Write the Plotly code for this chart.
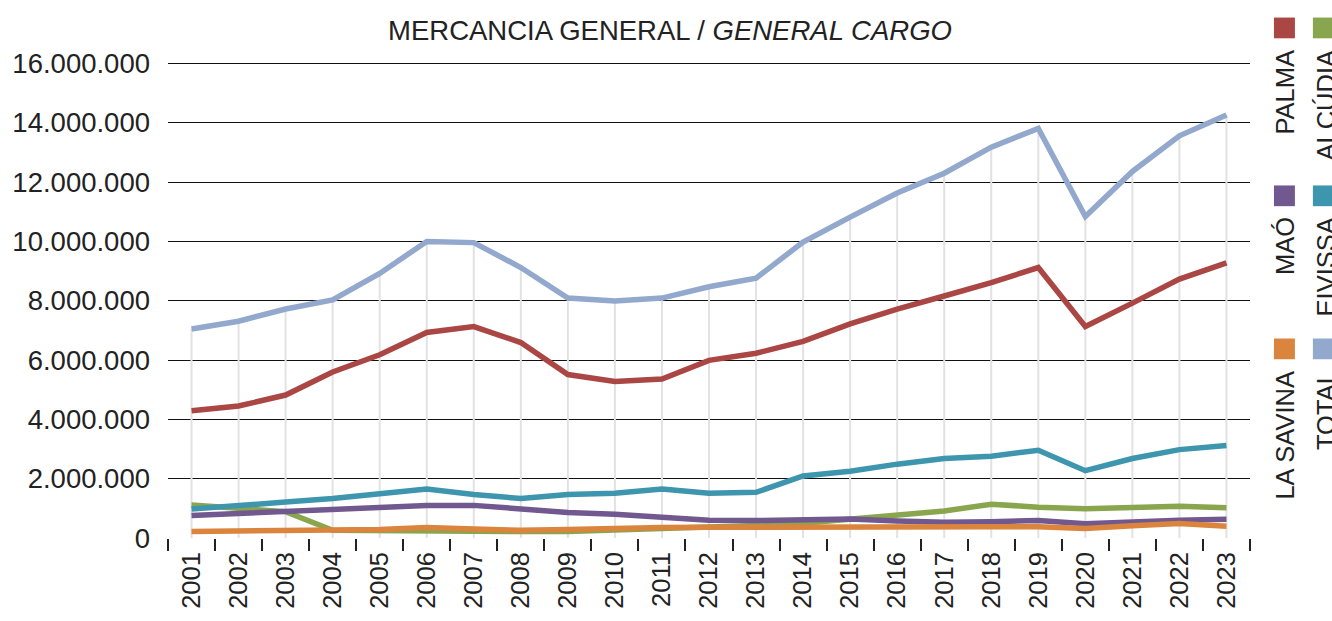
import plotly.graph_objects as go

years = [str(y) for y in range(2001, 2024)]

palma = [4.29, 4.45, 4.82, 5.60, 6.18, 6.93, 7.13, 6.59, 5.51, 5.28, 5.36, 5.99,
         6.23, 6.63, 7.22, 7.72, 8.16, 8.61, 9.12, 7.13, 7.92, 8.73, 9.28]
alcudia = [1.11, 1.01, 0.89, 0.26, 0.24, 0.26, 0.24, 0.22, 0.22, 0.26, 0.31, 0.35,
           0.42, 0.50, 0.65, 0.79, 0.91, 1.14, 1.04, 0.99, 1.05, 1.07, 1.02]
mao = [0.76, 0.82, 0.89, 0.95, 1.01, 1.10, 1.10, 0.98, 0.86, 0.80, 0.70, 0.60,
       0.59, 0.62, 0.64, 0.57, 0.53, 0.55, 0.59, 0.48, 0.55, 0.60, 0.63]
eivissa = [0.98, 1.08, 1.21, 1.33, 1.49, 1.65, 1.47, 1.33, 1.47, 1.51, 1.65, 1.51,
           1.54, 2.09, 2.25, 2.49, 2.68, 2.76, 2.96, 2.27, 2.68, 2.98, 3.12]
lasavina = [0.22, 0.25, 0.26, 0.27, 0.29, 0.35, 0.30, 0.26, 0.29, 0.33, 0.35, 0.36,
            0.37, 0.37, 0.37, 0.38, 0.40, 0.38, 0.38, 0.32, 0.41, 0.49, 0.40]
total = [7.05, 7.31, 7.72, 8.03, 8.92, 10.00, 9.96, 9.12, 8.09, 7.99, 8.09, 8.47,
         8.76, 9.98, 10.82, 11.63, 12.30, 13.18, 13.81, 10.84, 12.36, 13.56, 14.26]

series_names = ["PALMA", "ALCÚDIA", "MAÓ", "EIVISSA", "LA SAVINA", "TOTAL"]
series_values = [palma, alcudia, mao, eivissa, lasavina, total]
series_colors = ["#AA4643", "#89A54E", "#71588F", "#3D96AE", "#DB843D", "#92A8CD"]

M = 1_000_000
FONT = "Liberation Sans, Arial, sans-serif"

fig = go.Figure()

# drop lines from each total value to the axis
dx, dy = [], []
for yr, t in zip(years, total):
    dx += [yr, yr, yr]
    dy += [0, t * M, None]
fig.add_trace(go.Scatter(x=dx, y=dy, mode="lines", line=dict(color="#e2e2e2", width=2),
                         hoverinfo="skip", showlegend=False, connectgaps=False))

# draw order: total first, then ports
order = [5, 0, 1, 2, 3, 4]
for i in order:
    fig.add_trace(go.Scatter(x=years, y=[v * M for v in series_values[i]], mode="lines",
                             name=series_names[i],
                             line=dict(color=series_colors[i], width=5.5),
                             showlegend=False))

# plot area pixels
L, R, T, B = 166, 1250, 62, 544
W, H = 1332, 621
YMAX = 16.05 * M


def px(x):
    return (x - L) / (R - L)


def py(y):
    return (B - y) / (B - T)


# custom vertical legend
legend_layout = [
    # name index, square left px, square top px, text center x px
    (0, 1274, 17, 1285),
    (1, 1313, 17, 1326),
    (2, 1274, 187, 1285),
    (3, 1313, 187, 1326),
    (4, 1274, 342, 1285),
    (5, 1313, 342, 1326),
]
for idx, sx, sy, tx in legend_layout:
    fig.add_shape(type="rect", xref="paper", yref="paper",
                  x0=px(sx), x1=px(sx + 21), y0=py(sy + 21), y1=py(sy),
                  fillcolor=series_colors[idx], line=dict(width=0))
    fig.add_annotation(xref="paper", yref="paper", x=px(tx), y=py(sy + 30),
                       text=series_names[idx], textangle=-90, showarrow=False,
                       xanchor="center", yanchor="top",
                       font=dict(family=FONT, size=25.5, color="#222222"))

fig.update_layout(
    width=W, height=H,
    margin=dict(l=L, r=W - R, t=T, b=H - B),
    paper_bgcolor="white", plot_bgcolor="white",
    separators=",.",
    showlegend=False,
    font=dict(family=FONT, size=25, color="#222222"),
    title=dict(text="MERCANCIA GENERAL / <i>GENERAL CARGO</i>",
               x=670 / W, xanchor="center", xref="container",
               y=1 - 30 / H, yanchor="middle", yref="container",
               font=dict(family=FONT, size=27.5, color="#222222")),
    xaxis=dict(type="category", range=[-0.5, len(years) - 0.5],
               tickson="boundaries", ticks="outside", ticklen=12,
               tickwidth=2, tickcolor="#222222", showgrid=False, showline=False,
               zeroline=False, tickangle=-90, ticklabelstandoff=8,
               tickfont=dict(family=FONT, size=25.5, color="#222222")),
    yaxis=dict(range=[0, YMAX], tickvals=[i * 2 * M for i in range(9)],
               tickformat=",.0f", showgrid=True, gridcolor="#111111", gridwidth=1.3,
               zeroline=True, zerolinecolor="rgba(0,0,0,0)", showline=False,
               ticks="", ticklabelstandoff=17,
               tickfont=dict(family=FONT, size=27.5, color="#222222")),
)

fig.write_html("out.html", config={"displayModeBar": False},
               post_script="document.body.style.margin='0';")
